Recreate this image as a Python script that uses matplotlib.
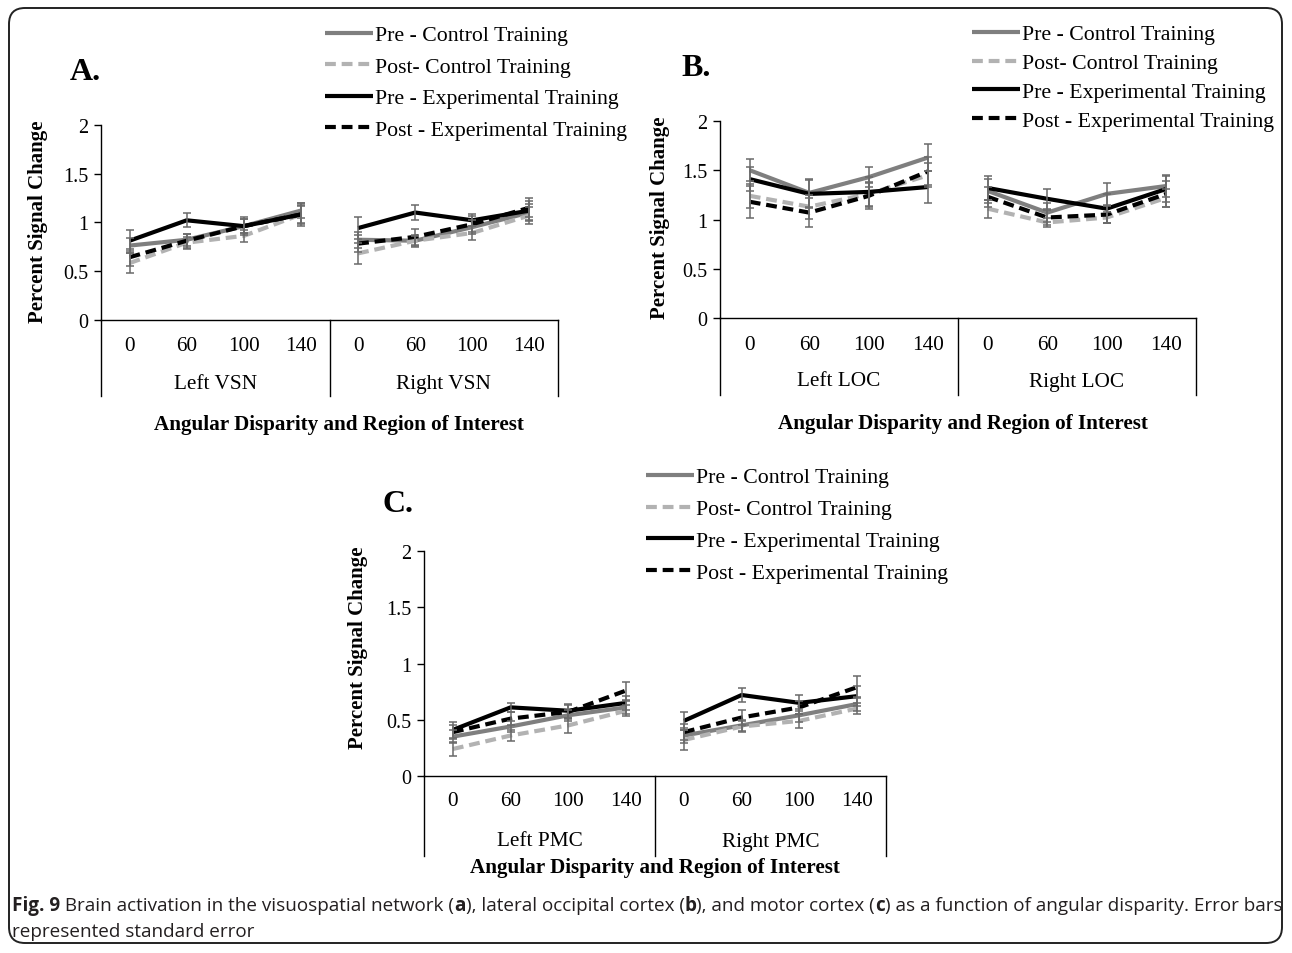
import matplotlib
matplotlib.use("Agg")
import matplotlib.pyplot as plt
from matplotlib import font_manager
from matplotlib.lines import Line2D
from matplotlib.patches import FancyBboxPatch
import numpy as np

plt.rcParams['font.family'] = ['Liberation Serif', 'DejaVu Serif']

# ---- data ----
angles = ['0', '60', '100', '140']
series_names = ['Pre - Control Training', 'Post- Control Training',
                'Pre - Experimental Training', 'Post - Experimental Training']

vsn_groups = ['Left VSN', 'Right VSN']
vsn_pre_ctrl = [0.76, 0.82, 0.96, 1.12, 0.82, 0.81, 0.95, 1.10]
vsn_post_ctrl = [0.58, 0.79, 0.86, 1.08, 0.68, 0.81, 0.89, 1.07]
vsn_pre_exp = [0.81, 1.02, 0.96, 1.08, 0.94, 1.10, 1.02, 1.12]
vsn_post_exp = [0.64, 0.81, 0.96, 1.08, 0.78, 0.85, 0.98, 1.15]
vsn_pre_ctrl_se = [0.08, 0.06, 0.07, 0.08, 0.08, 0.06, 0.07, 0.09]
vsn_post_ctrl_se = [0.10, 0.06, 0.06, 0.09, 0.11, 0.05, 0.07, 0.09]
vsn_pre_exp_se = [0.11, 0.07, 0.09, 0.10, 0.11, 0.08, 0.06, 0.10]
vsn_post_exp_se = [0.09, 0.07, 0.07, 0.12, 0.09, 0.08, 0.08, 0.10]

loc_groups = ['Left LOC', 'Right LOC']
loc_pre_ctrl = [1.50, 1.27, 1.43, 1.63, 1.29, 1.07, 1.26, 1.34]
loc_post_ctrl = [1.24, 1.13, 1.26, 1.45, 1.11, 0.97, 1.02, 1.22]
loc_pre_exp = [1.41, 1.26, 1.28, 1.33, 1.32, 1.21, 1.11, 1.31]
loc_post_exp = [1.18, 1.07, 1.24, 1.49, 1.23, 1.02, 1.05, 1.26]
loc_pre_ctrl_se = [0.11, 0.14, 0.10, 0.14, 0.12, 0.10, 0.11, 0.11]
loc_post_ctrl_se = [0.12, 0.12, 0.12, 0.12, 0.09, 0.05, 0.06, 0.09]
loc_pre_exp_se = [0.12, 0.14, 0.15, 0.16, 0.12, 0.10, 0.15, 0.13]
loc_post_exp_se = [0.16, 0.15, 0.13, 0.14, 0.10, 0.08, 0.09, 0.13]

pmc_groups = ['Left PMC', 'Right PMC']
pmc_pre_ctrl = [0.35, 0.44, 0.54, 0.61, 0.36, 0.45, 0.54, 0.64]
pmc_post_ctrl = [0.24, 0.36, 0.45, 0.58, 0.32, 0.44, 0.49, 0.60]
pmc_pre_exp = [0.41, 0.61, 0.58, 0.65, 0.49, 0.72, 0.65, 0.71]
pmc_post_exp = [0.39, 0.51, 0.57, 0.76, 0.39, 0.52, 0.61, 0.79]
pmc_pre_ctrl_se = [0.06, 0.05, 0.05, 0.06, 0.07, 0.05, 0.06, 0.06]
pmc_post_ctrl_se = [0.06, 0.05, 0.07, 0.05, 0.09, 0.05, 0.06, 0.05]
pmc_pre_exp_se = [0.07, 0.04, 0.06, 0.06, 0.08, 0.06, 0.07, 0.09]
pmc_post_exp_se = [0.06, 0.06, 0.06, 0.08, 0.07, 0.07, 0.06, 0.10]

styles = [
    dict(color='#7f7f7f', lw=3, ls='-', solid_capstyle='butt'),
    dict(color='#b2b2b2', lw=3, ls=(0, (2.6, 1.4)), dash_capstyle='butt'),
    dict(color='#000000', lw=3, ls='-', solid_capstyle='butt'),
    dict(color='#000000', lw=3, ls=(0, (2.6, 1.4)), dash_capstyle='butt'),
]

W, H = 1292, 954
fig = plt.figure(figsize=(W / 100, H / 100), dpi=100)

# background axes in pixel coordinates for frame, titles and caption
bg = fig.add_axes([0, 0, 1, 1], zorder=-1)
bg.set_xlim(0, W)
bg.set_ylim(H, 0)
bg.axis('off')
bg.add_patch(FancyBboxPatch((9, 9), W - 19, H - 19,
                            boxstyle='round,pad=0,rounding_size=16',
                            fc='none', ec='#222222', lw=1.4))


def panel(left, right, zero_y, top_y, groups, vals, ses, off_tick, off_group, off_sep):
    ax = fig.add_axes([left / W, 1 - zero_y / H, (right - left) / W, (zero_y - top_y) / H])
    x = np.arange(8)
    for v, e, st in zip(vals, ses, styles):
        v = np.array(v)
        for g in (slice(0, 4), slice(4, 8)):
            ax.plot(x[g], v[g], **st, zorder=3)
        ax.errorbar(x, v, yerr=e, fmt='none', ecolor='#6a6a6a', elinewidth=1.1,
                    capsize=3, capthick=1.1, zorder=4)
    ax.set_xlim(-0.5, 7.5)
    ax.set_ylim(0, 2)
    ax.set_yticks([0, 0.5, 1, 1.5, 2])
    ax.set_yticklabels(['0', '0.5', '1', '1.5', '2'])
    ax.set_xticks([])
    ax.tick_params(axis='y', direction='out', length=5, width=1, labelsize=14.5, pad=4)
    for s in ('top', 'right'):
        ax.spines[s].set_visible(False)
    for s in ('left', 'bottom'):
        ax.spines[s].set_linewidth(1)
    ppu = (zero_y - top_y) / 2.0  # pixels per unit
    for i in range(8):
        ax.text(i, -off_tick / ppu, angles[i % 4], ha='center', va='center',
                fontsize=15.3, clip_on=False)
    for k, name in enumerate(groups):
        ax.text(1.5 + 4 * k, -off_group / ppu, name, ha='center', va='center',
                fontsize=15.3, clip_on=False)
    for xv in (-0.5, 3.5, 7.5):
        ax.plot([xv, xv], [0, -off_sep / ppu], color='black', lw=1, clip_on=False)
    return ax


panel(101, 558, 320.5, 126, vsn_groups,
      [vsn_pre_ctrl, vsn_post_ctrl, vsn_pre_exp, vsn_post_exp],
      [vsn_pre_ctrl_se, vsn_post_ctrl_se, vsn_pre_exp_se, vsn_post_exp_se], 26, 64, 76)
panel(720, 1196, 319, 122, loc_groups,
      [loc_pre_ctrl, loc_post_ctrl, loc_pre_exp, loc_post_exp],
      [loc_pre_ctrl_se, loc_post_ctrl_se, loc_pre_exp_se, loc_post_exp_se], 26, 63, 77)
panel(424, 886, 777, 552, pmc_groups,
      [pmc_pre_ctrl, pmc_post_ctrl, pmc_pre_exp, pmc_post_exp],
      [pmc_pre_ctrl_se, pmc_post_ctrl_se, pmc_pre_exp_se, pmc_post_exp_se], 25, 65, 80)

# legends
handles = [Line2D([], [], **st) for st in styles]
for hx, hy, sp in [(325, 83.5, 0.52), (972, 78.5, 0.4), (646, 526, 0.53)]:
    fig.legend(handles, series_names, loc='center left', bbox_to_anchor=(hx / W, 1 - hy / H),
               frameon=False, borderpad=0, borderaxespad=0, handlelength=2.2,
               handletextpad=0.1, labelspacing=sp, fontsize=15.7)

# panel letters, axis titles
for txt, px, py in [('A.', 85, 72), ('B.', 696, 68), ('C.', 398, 505)]:
    bg.text(px, py, txt, ha='center', va='center', fontsize=23, fontweight='bold')
for px, py in [(339, 425), (963, 424), (655, 868)]:
    bg.text(px, py, 'Angular Disparity and Region of Interest', ha='center', va='center',
            fontsize=15.2, fontweight='bold')
for px, py in [(38, 222), (660, 218), (358, 648)]:
    bg.text(px, py, 'Percent Signal Change', ha='center', va='center', rotation=90,
            fontsize=15, fontweight='bold')

# caption with bold pieces
names = {f.name for f in font_manager.fontManager.ttflist}
cap_font = 'Liberation Sans Narrow' if 'Liberation Sans Narrow' in names else 'Open Sans'
pieces = [('Fig. 9', 'bold'), (' Brain activation in the visuospatial network (', 'normal'),
          ('a', 'bold'), ('), lateral occipital cortex (', 'normal'), ('b', 'bold'),
          ('), and motor cortex (', 'normal'), ('c', 'bold'),
          (') as a function of angular disparity. Error bars', 'normal')]
renderer = fig.canvas.get_renderer()
texts = [bg.text(0, 911, s, fontweight=w, family=cap_font, fontsize=12, va='baseline',
                 color='#231f20') for s, w in pieces]
total = sum(t.get_window_extent(renderer).width for t in texts)
fs = 12 * 1266 / total
xpos = 12
for t in texts:
    t.set_fontsize(fs)
    t.set_x(xpos)
    xpos += t.get_window_extent(renderer).width
bg.text(12, 937, 'represented standard error', family=cap_font, fontsize=fs,
        va='baseline', color='#231f20')

fig.savefig('out.png', dpi=100)
